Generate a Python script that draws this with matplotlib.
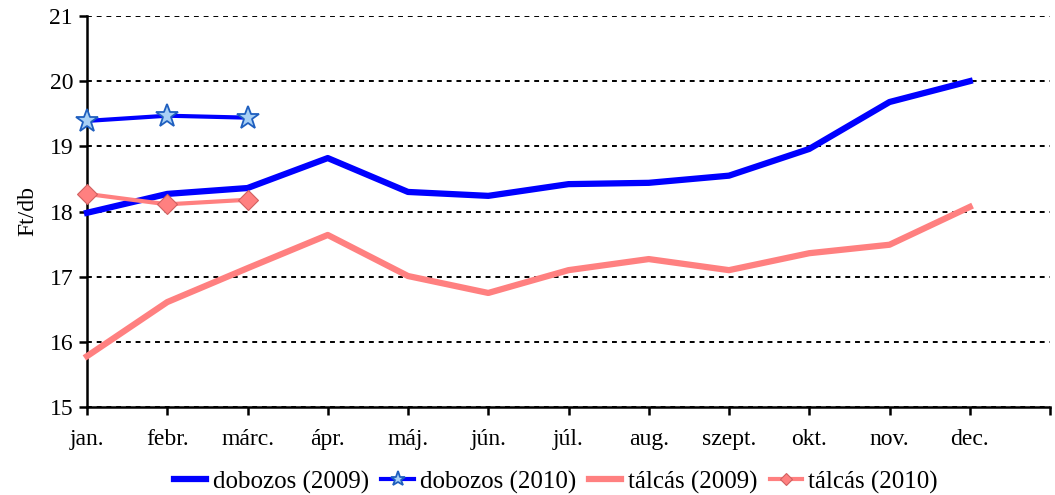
import matplotlib
matplotlib.use("Agg")
import matplotlib.pyplot as plt
import numpy as np

plt.rcParams['font.family'] = ['Liberation Serif', 'DejaVu Serif']

months = ['jan.', 'febr.', 'márc.', 'ápr.', 'máj.', 'jún.', 'júl.', 'aug.',
          'szept.', 'okt.', 'nov.', 'dec.']
dobozos_2009 = [17.98, 18.27, 18.36, 18.82, 18.30, 18.24, 18.42, 18.44, 18.55, 18.96, 19.68, 20.00]
dobozos_2010 = [19.39, 19.47, 19.44]
talcas_2009 = [15.78, 16.61, 17.13, 17.64, 17.01, 16.75, 17.10, 17.27, 17.10, 17.36, 17.49, 18.07]
talcas_2010 = [18.27, 18.11, 18.18]

blue = '#0000FF'
salmon = '#FF8080'

fig = plt.figure(figsize=(10.55, 4.95), dpi=100)
ax = fig.add_axes([87 / 1055, 1 - 407 / 495, (1050 - 87) / 1055, (407 - 16) / 495])

x = np.arange(len(months))
ax.plot(x, dobozos_2009, color=blue, lw=4.5, label='dobozos (2009)', zorder=3, clip_on=False)
ax.plot(x[:len(dobozos_2010)], dobozos_2010, color=blue, lw=3, marker='*', ms=17,
        mfc='#A8D0F5', mec='#1F5FBF', mew=1.3, label='dobozos (2010)', zorder=4, clip_on=False)
ax.plot(x, talcas_2009, color=salmon, lw=4.5, label='tálcás (2009)', zorder=3, clip_on=False)
ax.plot(x[:len(talcas_2010)], talcas_2010, color=salmon, lw=3, marker='D', ms=10,
        mfc=salmon, mec='#D06060', mew=0.8, label='tálcás (2010)', zorder=4, clip_on=False)

ax.set_xlim(0, 12)
ax.set_ylim(15, 21)
ax.set_yticks(range(15, 22))
ax.set_xticks(np.arange(13))
ax.set_xticklabels(months + [''])
ax.yaxis.grid(True, color='black', ls=(0, (2.5, 2.5)), lw=1.4)
ax.set_axisbelow(True)
for s in ['top', 'right']:
    ax.spines[s].set_visible(False)
ax.spines['left'].set_linewidth(1.8)
ax.spines['bottom'].set_linewidth(1.8)
ax.tick_params(axis='both', direction='out', length=6, width=1.8, labelsize=17)
ax.tick_params(axis='x', pad=10)
ax.tick_params(axis='y', pad=4)
ax.set_ylabel('Ft/db', fontsize=17, labelpad=8)

ax.legend(loc='upper center', bbox_to_anchor=(0.487, -0.105), ncol=4, frameon=False,
          fontsize=18, handlelength=1.3, handletextpad=0.25, columnspacing=0.5,
          markerscale=0.65)

fig.savefig('out.png', dpi=100)
